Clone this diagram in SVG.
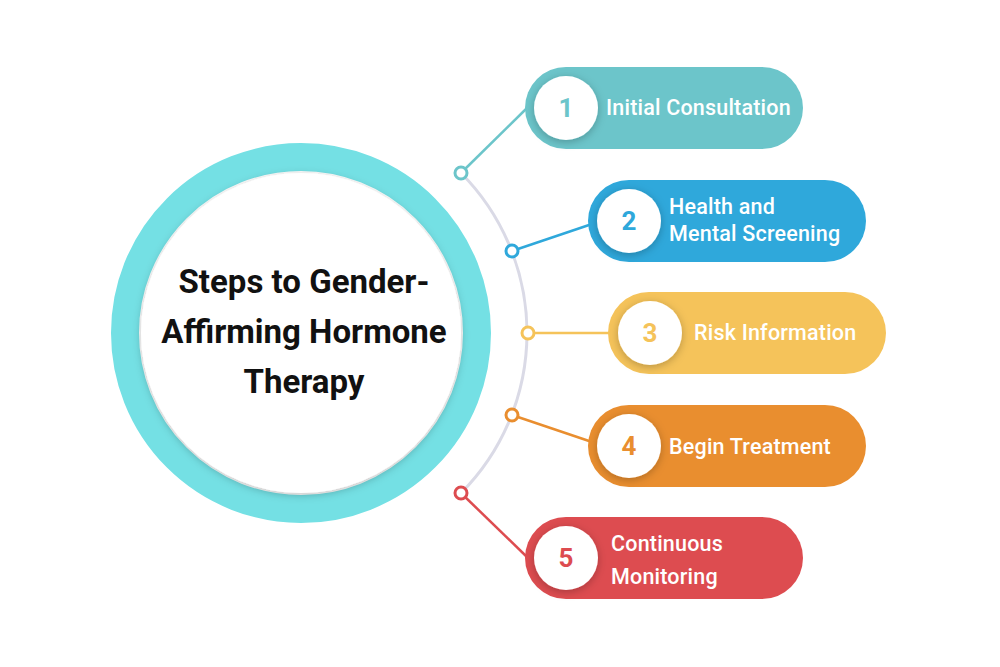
<svg xmlns="http://www.w3.org/2000/svg" width="1000" height="667" viewBox="0 0 1000 667">
<defs>
<filter id="sh" x="-20%" y="-20%" width="140%" height="140%"><feDropShadow dx="0" dy="2" stdDeviation="4" flood-color="#000" flood-opacity="0.25"/></filter>
<style>
.pt{font-family:Roboto,"Liberation Sans",sans-serif;font-size:21.5px;fill:#fff;font-weight:500;letter-spacing:0.2px}
.num{font-family:Roboto,"Liberation Sans",sans-serif;font-size:26px;font-weight:700;text-anchor:middle}
.ttl{font-family:Roboto,"Liberation Sans",sans-serif;font-size:33px;font-weight:700;fill:#111;text-anchor:middle}
.ic{fill:#fff;filter:url(#sh)}
</style>
</defs>
<rect width="1000" height="667" fill="#fff"/>
<g id="center">
<circle cx="301" cy="333" r="176" fill="none" stroke="#74E0E4" stroke-width="28"/>
<circle cx="301" cy="333" r="160" fill="#fff" filter="url(#sh)"/>
<text class="ttl" x="304" y="293">Steps to Gender-</text>
<text class="ttl" x="304" y="343">Affirming Hormone</text>
<text class="ttl" x="304" y="393">Therapy</text>
</g>
<g id="connectors" fill="none" stroke-width="2.5">
<path d="M461,173 A227,227 0 0 1 461,493" stroke="#DADAE6" stroke-width="3"/>
<line x1="461" y1="173" x2="527" y2="108" stroke="#6CC5CA"/>
<line x1="512" y1="251" x2="592" y2="224" stroke="#2FA8DB"/>
<line x1="528" y1="333" x2="610" y2="333" stroke="#F5C35A"/>
<line x1="512" y1="415" x2="592" y2="442" stroke="#E98E2F"/>
<line x1="461" y1="493" x2="527" y2="557" stroke="#DD4C50"/>
<circle cx="461" cy="173" r="6" fill="#fff" stroke="#6CC5CA" stroke-width="3"/>
<circle cx="512" cy="251" r="6" fill="#fff" stroke="#2FA8DB" stroke-width="3"/>
<circle cx="528" cy="333" r="6" fill="#fff" stroke="#F5C35A" stroke-width="3"/>
<circle cx="512" cy="415" r="6" fill="#fff" stroke="#E98E2F" stroke-width="3"/>
<circle cx="461" cy="493" r="6" fill="#fff" stroke="#DD4C50" stroke-width="3"/>
</g>
<g id="step1">
<rect x="525" y="67" width="278" height="82" rx="41" fill="#6CC5CA"/>
<circle class="ic" cx="566" cy="108" r="32"/>
<text class="num" x="566" y="117" fill="#6CC5CA">1</text>
<text class="pt" x="606" y="115">Initial Consultation</text>
</g>
<g id="step2">
<rect x="588" y="180" width="278" height="82" rx="41" fill="#2FA8DB"/>
<circle class="ic" cx="629" cy="221" r="32"/>
<text class="num" x="629" y="230" fill="#2FA8DB">2</text>
<text class="pt" x="669" y="214">Health and</text>
<text class="pt" x="669" y="241">Mental Screening</text>
</g>
<g id="step3">
<rect x="608" y="292" width="278" height="82" rx="41" fill="#F5C35A"/>
<circle class="ic" cx="650" cy="333" r="32"/>
<text class="num" x="650" y="342" fill="#F5C35A">3</text>
<text class="pt" x="694" y="340">Risk Information</text>
</g>
<g id="step4">
<rect x="588" y="405" width="278" height="82" rx="41" fill="#E98E2F"/>
<circle class="ic" cx="629" cy="446" r="32"/>
<text class="num" x="629" y="455" fill="#E98E2F">4</text>
<text class="pt" x="669" y="454">Begin Treatment</text>
</g>
<g id="step5">
<rect x="525" y="517" width="278" height="82" rx="41" fill="#DD4C50"/>
<circle class="ic" cx="566" cy="558" r="32"/>
<text class="num" x="566" y="567" fill="#DD4C50">5</text>
<text class="pt" x="611" y="551">Continuous</text>
<text class="pt" x="611" y="584">Monitoring</text>
</g>
</svg>
